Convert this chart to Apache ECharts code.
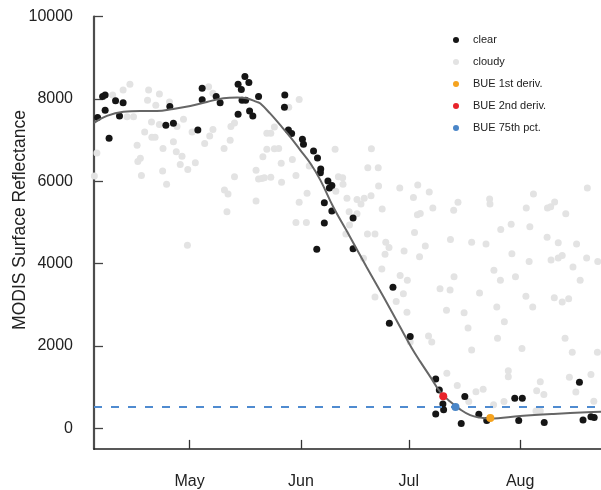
<!DOCTYPE html>
<html>
<head>
<meta charset="utf-8">
<script src="https://cdn.jsdelivr.net/npm/echarts@6/dist/echarts.min.js"></script>
<style>
  html, body { margin: 0; padding: 0; background: #fff; }
  #chart { width: 601px; height: 490px; }
</style>
</head>
<body>
<div id="chart"></div>
<script>
// Day of year / surface reflectance observations
const clearObs = [
  [94.3,6250],[95.4,7550],[96.8,8060],[97.5,8100],[97.5,7730],[98.6,7050],[100.4,7960],[101.5,7590],
  [102.5,7910],[114.4,7360],[115.5,7820],[116.5,7410],[123.3,7250],[124.5,8260],[124.5,7980],[128.4,8060],
  [129.5,7910],[134.5,8360],[135.4,8230],[136.4,8550],[137.5,8400],[135.6,7970],[136.6,7970],[134.5,7630],
  [137.7,7710],[138.6,7590],[140.2,8060],[147.5,8100],[147.4,7800],[148.5,7250],[149.4,7160],[152.4,7020],
  [152.7,6900],[155.5,6740],[156.6,6570],[157.5,6300],[157.4,6210],[159.5,6010],[159.9,5840],[160.6,5900],
  [158.5,5480],[160.6,5280],[158.5,4990],[166.5,5110],[156.4,4350],[166.5,4360],[177.6,3430],[176.6,2550],
  [182.4,2230],[189.5,1200],[190.5,930],[191.5,590],[191.7,450],[189.5,350],[197.6,770],[196.6,120],
  [201.5,340],[203.7,190],[211.5,730],[213.6,730],[212.6,190],[219.7,140],[229.5,1120],[230.5,200],
  [232.7,280],[233.6,260]
];

const cloudyObs = [
  [94.5,6130],[95.2,6690],[99.6,8100],[102.5,8220],[104.4,8360],[103.6,7570],[105.4,7570],[109.6,8220],
  [109.3,7970],[112.6,8120],[111.6,7850],[115.4,7930],[110.4,7440],[112.6,7380],[108.5,7200],[110.5,7070],
  [111.4,7070],[106.4,6880],[116.5,6960],[113.6,6800],[119.3,7510],[117.5,7330],[121.7,7200],[125.2,6920],
  [126.6,7100],[127.5,7260],[132.5,7330],[133.5,7420],[132.3,7000],[130.6,6800],[107.3,6560],[106.6,6480],
  [117.3,6720],[118.9,6610],[118.4,6410],[122.6,6450],[120.5,6290],[107.6,6140],[113.5,6250],[114.6,5930],
  [130.7,5790],[131.7,5690],[133.5,6110],[139.5,6270],[140.2,6060],[126.3,8300],[127.5,8140],[139.5,5520],
  [131.4,5260],[120.4,4450],
  [151.5,7990],[148.6,7800],[144.6,7320],[142.5,7170],[143.6,7170],[142.5,6780],[144.6,6790],[145.8,6800],
  [141.4,6600],[149.6,6530],[146.5,6440],[141.1,6070],[141.8,6090],[143.6,6100],[150.6,6140],[146.6,5980],
  [154.3,6370],[161.5,6780],[171.6,6790],[170.6,6330],[173.5,6330],[162.4,6110],[163.6,6090],[163.7,5930],
  [173.6,5890],[179.5,5840],[184.5,5910],[153.7,5710],[161.7,5760],[164.8,5590],[167.6,5560],[169.6,5590],
  [171.5,5650],[183.3,5610],
  [151.5,5490],[150.6,5000],[153.5,5000],[168.7,5450],[165.4,5260],[167.6,5210],[174.6,5330],[165.5,4940],
  [164.5,4720],[170.5,4720],[172.6,4720],[175.6,4520],[176.5,4390],[175.4,4230],[180.7,4310],[184.4,5190],
  [183.6,4760],[169.4,4130],[174.5,3870],[179.6,3710],[181.6,3600],[180.5,3270],[172.6,3190],[178.5,3080],
  [181.5,2820],[185.0,4170],
  [187.7,5740],[188.7,5350],[185.2,5220],[195.7,5490],[194.5,5300],[204.5,5570],[204.6,5450],[216.7,5690],
  [231.7,5840],[214.7,5350],[220.6,5350],[221.5,5380],[222.6,5500],[225.7,5210],[207.6,4830],[210.5,4960],
  [215.7,4900],[186.6,4430],[193.6,4590],[199.5,4520],[203.5,4480],[220.5,4640],[223.6,4510],[228.7,4480],
  [210.7,4240],[215.5,4050],[221.6,4090],[223.6,4140],[224.7,4200],[231.5,4140],[234.6,4050],[227.7,3920],
  [205.7,3840],[207.5,3600],[211.7,3680],[194.6,3680],[229.7,3600],[190.7,3390],[193.5,3360],[201.7,3290],
  [214.6,3210],[216.5,2950],[222.5,3170],[224.7,3070],[226.5,3150],[206.5,2950],[192.5,2870],[197.4,2810],
  [208.6,2590],[198.5,2440],[187.5,2240],[188.4,2100],[206.7,2190],[225.5,2190],[213.5,1940],[199.5,1900],
  [227.5,1850],[234.5,1850],[209.7,1400],[209.7,1250],[192.6,1340],[226.7,1240],[232.7,1310],[218.6,1130],
  [195.5,1040],[200.7,890],[202.7,950],[217.6,910],[219.6,820],[228.5,880],[198.7,650],[208.5,650],
  [233.5,660],[205.6,570],[217.4,420],[218.6,420],[182.4,2100]
];

// Smoothed seasonal fit
const fitCurve = [
  [94.4,7420],[98.0,7590],[102.6,7690],[107.3,7710],[111.9,7710],[116.5,7760],[121.2,7830],[125.8,7930],
  [130.4,8020],[134.2,8040],[136.9,8020],[139.7,7930],[140.7,7890],[143.4,7650],[146.2,7370],[149.0,7080],
  [151.8,6760],[154.6,6440],[157.4,6030],[161.0,5375],[165.7,4644],[170.3,3913],[175.0,3190],[179.6,2460],
  [182.9,1940],[185.2,1620],[188.0,1250],[190.7,890],[193.5,650],[196.3,460],[199.1,320],[201.9,260],
  [204.6,240],[213.0,300],[222.3,350],[231.5,390],[235.5,400]
];

// Break-up estimates
const bue1stDeriv = [[204.7, 250]];
const bue2ndDeriv = [[191.6, 780]];
const bue75thPct  = [[195.0, 515]];
const bue75Threshold = 515;

// Axis ticks
const monthDoy   = [121, 152, 182, 213];
const monthNames = ['May', 'Jun', 'Jul', 'Aug'];
const yTicks     = [0, 2000, 4000, 6000, 8000, 10000];
const xMin = 94.4, xMax = 235.5;
const yMin = -500, yMax = 10000;

const FONT = "'Liberation Sans', Arial, Helvetica, sans-serif";

const chart = echarts.init(document.getElementById('chart'), null, { renderer: 'canvas' });

const scatterBase = {
  type: 'scatter',
  symbol: 'circle',
  silent: true,
  emphasis: { disabled: true }
};

chart.setOption({
  animation: false,
  backgroundColor: '#ffffff',
  grid: { left: 94, right: 0, top: 16.7, bottom: 41.1, outerBoundsMode: 'none', containLabel: false },
  xAxis: {
    type: 'value',
    min: xMin,
    max: xMax,
    splitLine: { show: false },
    axisLine: { show: true, onZero: false, lineStyle: { color: '#222', width: 1.6 } },
    axisTick: {
      show: true, inside: true, length: 9, customValues: monthDoy,
      lineStyle: { color: '#333', width: 1.3 }
    },
    axisLabel: {
      customValues: monthDoy,
      formatter: v => monthNames[monthDoy.indexOf(v)] || '',
      margin: 25, fontSize: 16, color: '#222', fontFamily: FONT
    }
  },
  yAxis: {
    type: 'value',
    min: yMin,
    max: yMax,
    splitLine: { show: false },
    axisLine: { show: true, onZero: false, lineStyle: { color: '#4d4d4d', width: 2.2 } },
    axisTick: {
      show: true, inside: false, length: -9, customValues: yTicks,
      lineStyle: { color: '#444', width: 1.3 }
    },
    axisLabel: {
      customValues: yTicks,
      formatter: v => String(v),
      margin: 21, fontSize: 16, color: '#222', fontFamily: FONT
    }
  },
  legend: {
    orient: 'vertical',
    left: 448,
    top: 28,
    itemWidth: 24,
    itemHeight: 6,
    itemGap: 8,
    icon: 'circle',
    selectedMode: false,
    textStyle: { fontSize: 11, color: '#222', fontFamily: FONT, lineHeight: 14 },
    data: ['clear', 'cloudy', 'BUE 1st deriv.', 'BUE 2nd deriv.', 'BUE 75th pct.']
  },
  graphic: [{
    type: 'text',
    x: 20,
    y: 220,
    rotation: Math.PI / 2,
    silent: true,
    style: {
      text: 'MODIS Surface Reflectance',
      font: '17.5px ' + FONT,
      fill: '#222',
      textAlign: 'center',
      textVerticalAlign: 'middle'
    }
  }],
  series: [
    Object.assign({}, scatterBase, {
      name: 'cloudy', data: cloudyObs, symbolSize: 7,
      itemStyle: { color: '#e3e3e3', opacity: 1 }, z: 1
    }),
    Object.assign({}, scatterBase, {
      name: 'clear', data: clearObs, symbolSize: 7,
      itemStyle: { color: '#151515', opacity: 1 }, z: 2
    }),
    {
      name: 'fit',
      type: 'line',
      data: fitCurve,
      smooth: 0.4,
      showSymbol: false,
      silent: true,
      lineStyle: { color: '#666666', width: 2 },
      z: 3
    },
    Object.assign({}, scatterBase, {
      name: 'BUE 75th pct.', data: bue75thPct, symbolSize: 8,
      itemStyle: { color: '#4a86c8', opacity: 1 }, z: 5,
      markLine: {
        silent: true,
        symbol: ['none', 'none'],
        label: { show: false },
        lineStyle: { color: '#4f8bd0', width: 2, type: [8, 9] },
        emphasis: { disabled: true },
        data: [{ yAxis: bue75Threshold }]
      }
    }),
    Object.assign({}, scatterBase, {
      name: 'BUE 2nd deriv.', data: bue2ndDeriv, symbolSize: 8,
      itemStyle: { color: '#e8232a', opacity: 1 }, z: 5
    }),
    Object.assign({}, scatterBase, {
      name: 'BUE 1st deriv.', data: bue1stDeriv, symbolSize: 8,
      itemStyle: { color: '#f5a31f', opacity: 1 }, z: 5
    })
  ]
});
</script>
</body>
</html>
